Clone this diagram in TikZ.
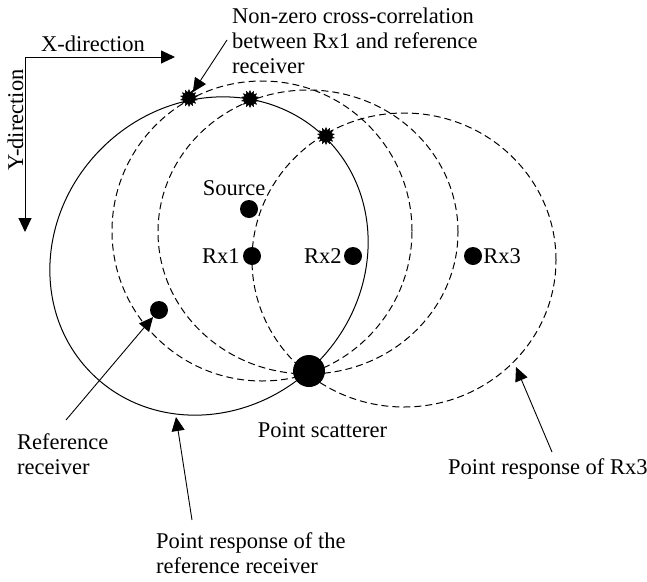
\documentclass[tikz,border=0pt]{standalone}
\usepackage{fontspec}
\setmainfont{Liberation Serif}
\usetikzlibrary{shapes.geometric, arrows.meta, positioning}
\tikzset{
  rxdot/.style={circle, fill=black, inner sep=0pt, minimum size=18pt},
  bigdot/.style={circle, fill=black, inner sep=0pt, minimum size=32pt},
  burst/.style={star, star points=14, star point ratio=1.5, fill=black, draw=black,
    line width=0.4pt, inner sep=0pt, minimum size=17pt},
  lbl/.style={inner sep=0pt, font=\fontsize{22.5}{25}\selectfont},
  arrow/.style={-{Triangle[length=14pt, width=13pt]}, line width=0.9pt},
  refresp/.style={line width=1pt},
  rxresp/.style={line width=1pt, dash pattern=on 7pt off 4pt}
}

\begin{document}
\begin{tikzpicture}[x=1pt, y=-1pt]
  \useasboundingbox (0,0) rectangle (647,581);

  % Axes
  \coordinate (origin) at (25,57);
  \coordinate (xend) at (175,57);
  \coordinate (yend) at (25,232);
  \draw[arrow] (origin) -- (xend);
  \draw[arrow] (origin) -- (yend);
  \node[lbl, anchor=base] (xlbl) at (93,51) {X-direction};
  \node[lbl, anchor=base, rotate=90] (ylbl) at (23,120) {Y-direction};

  % Point responses (reference solid, receivers dashed)
  \draw[refresp, rotate around={45:(209,256)}] (209,256) ellipse [x radius=166pt, y radius=152pt];
  \draw[rxresp] (262,231) circle [radius=150pt];
  \draw[rxresp] (308,232) ellipse [x radius=150pt, y radius=142pt];
  \draw[rxresp] (404,260) ellipse [x radius=152pt, y radius=147pt];

  % Source, receivers and scatterer
  \node[rxdot] (src) at (249,209) {};
  \node[rxdot] (rx1) at (252,256) {};
  \node[rxdot] (rx2) at (353,256) {};
  \node[rxdot] (rx3) at (473,256) {};
  \node[rxdot] (refrx) at (159,310) {};
  \node[bigdot] (scat) at (309,371) {};

  % Cross-correlation points
  \node[burst] (cc1) at (189,98) {};
  \node[burst] (cc2) at (250,99) {};
  \node[burst] (cc3) at (326,136) {};

  % Labels
  \node[lbl, anchor=base] (srclbl) at (234,195) {Source};
  \node[lbl, left=3pt of rx1] (rx1lbl) {Rx1};
  \node[lbl, left=2pt of rx2] (rx2lbl) {Rx2};
  \node[lbl, right=1pt of rx3] (rx3lbl) {Rx3};
  \node[lbl, anchor=base] (scatlbl) at (322.5,437) {Point scatterer};

  \node[lbl, align=left, anchor=north west] (cclbl) at (232,8)
    {Non-zero cross-correlation\\between Rx1 and reference\\receiver};
  \coordinate (cctail) at (227,40);
  \draw[arrow] (cctail) -- (cc1);

  \node[lbl, align=left, anchor=north west] (reflbl) at (17,433) {Reference\\receiver};
  \coordinate (reftail) at (66,420);
  \draw[arrow] (reftail) -- (refrx);

  \node[lbl, align=left, anchor=north west] (prreflbl) at (156,532)
    {Point response of the\\reference receiver};
  \coordinate (prreftail) at (192,520);
  \coordinate (prreftip) at (176,417);
  \draw[arrow] (prreftail) -- (prreftip);

  \node[lbl, anchor=base west] (prrx3lbl) at (448,474) {Point response of Rx3};
  \coordinate (prrx3tail) at (552,452);
  \coordinate (prrx3tip) at (516,367);
  \draw[arrow] (prrx3tail) -- (prrx3tip);
\end{tikzpicture}
\end{document}
